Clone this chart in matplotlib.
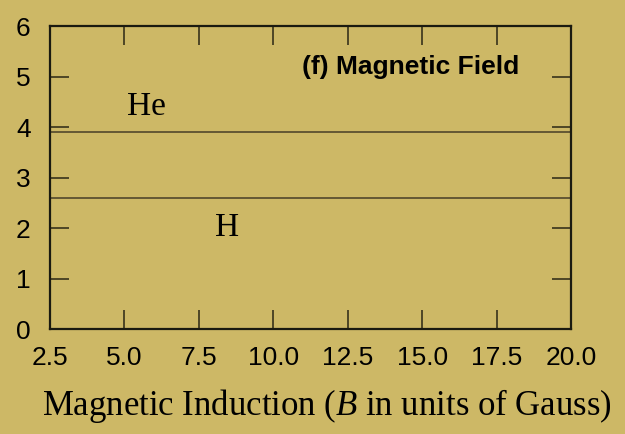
import numpy as np
import matplotlib.pyplot as plt

# field strength range (Gauss) and energy levels for each element
b_field = [2.5, 20.0]
he_level = [3.9, 3.9]
h_level = [2.6, 2.6]

x_ticks = [2.5, 5.0, 7.5, 10.0, 12.5, 15.0, 17.5, 20.0]
y_ticks = [0, 1, 2, 3, 4, 5, 6]

bg = '#cdb866'
line_col = '#5c5030'

plt.rcParams['mathtext.fontset'] = 'custom'
plt.rcParams['mathtext.it'] = 'Liberation Serif:italic'
plt.rcParams['mathtext.rm'] = 'Liberation Serif'

fig = plt.figure(figsize=(6.25, 4.34), dpi=100)
fig.patch.set_facecolor(bg)
ax = fig.add_axes([0.08, 0.2415, 0.8336, 0.6975])
ax.set_facecolor(bg)

ax.plot(b_field, he_level, color=line_col, lw=1.3)
ax.plot(b_field, h_level, color=line_col, lw=1.3)

ax.set_xlim(2.5, 20.0)
ax.set_ylim(0, 6)
ax.set_xticks(x_ticks)
ax.set_xticklabels(['%.1f' % v for v in x_ticks])
ax.set_yticks(y_ticks)

for s in ax.spines.values():
    s.set_linewidth(1.6)
    s.set_color('#1a1a10')

ax.tick_params(direction='in', length=14, width=1.1, color='#2a2615',
               top=True, right=True, labelsize=19,
               labelfontfamily='Liberation Sans')
ax.tick_params(axis='x', pad=12)
ax.tick_params(axis='y', pad=14)

ax.text(5.73, 4.4, 'He', fontsize=24, family='Liberation Serif',
        ha='center', va='center')
ax.text(8.46, 2.02, 'H', fontsize=24, family='Liberation Serif',
        ha='center', va='center')
ax.text(10.95, 5.2, '(f) Magnetic Field', fontsize=19, fontweight='bold',
        family='Liberation Sans', ha='left', va='center')

ax.set_xlabel(r'Magnetic Induction ($B$ in units of Gauss)',
              fontsize=25, family='Liberation Serif')
ax.xaxis.set_label_coords(0.531, -0.19)

fig.savefig('out.png', dpi=100, facecolor=bg)
